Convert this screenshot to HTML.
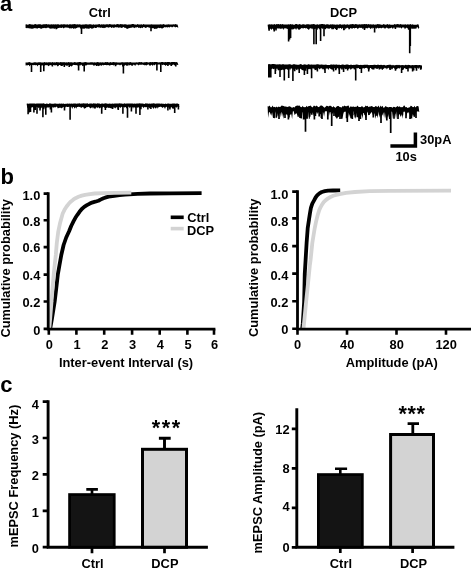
<!DOCTYPE html>
<html><head><meta charset="utf-8"><title>Figure</title>
<style>
html,body{margin:0;padding:0;background:#fff;}
body{width:471px;height:568px;overflow:hidden;}
svg{display:block;will-change:transform;}
svg text{font-family:"Liberation Sans",sans-serif;font-weight:bold;fill:#000;}
</style></head><body>
<svg width="471" height="568" viewBox="0 0 471 568">
<rect width="471" height="568" fill="#fff"/>
<text x="0" y="11.3" text-anchor="start" font-size="22" >a</text>
<text x="0.4" y="183.7" text-anchor="start" font-size="22" >b</text>
<text x="0.3" y="391.7" text-anchor="start" font-size="22" >c</text>
<text x="99.7" y="17.2" text-anchor="middle" font-size="12.85" >Ctrl</text>
<text x="343.6" y="17.0" text-anchor="middle" font-size="12.85" >DCP</text>
<path d="M25.5,24.6 26.5,24.3 27.5,24.7 28.5,24.6 29.5,24.1 30.5,24.2 31.5,24.6 32.5,24.4 33.5,24.7 34.5,24.3 35.5,24.1 36.5,24.5 37.5,24.6 38.5,24.3 39.5,24.2 40.5,24.3 41.5,24.7 42.5,24.6 43.5,24.2 44.5,24.2 45.5,24.2 46.5,24.1 47.5,24.6 48.5,24.2 49.5,24.4 50.5,24.4 51.5,24.2 52.5,24.5 53.5,24.2 54.5,24.5 55.5,24.2 56.5,24.4 57.5,24.2 58.5,24.3 59.5,24.7 60.5,24.6 61.5,24.3 62.5,24.6 63.5,24.2 64.5,24.3 65.5,24.6 66.5,24.5 67.5,24.2 68.5,24.7 69.5,24.2 70.5,24.3 71.5,24.6 72.5,24.3 73.5,24.3 74.5,24.1 75.5,24.2 76.5,24.4 77.5,24.2 78.5,24.5 79.5,24.3 80.5,24.4 81.5,24.7 82.5,24.4 83.5,24.4 84.5,24.6 85.5,24.2 86.5,24.2 87.5,24.6 88.5,24.6 89.5,24.2 90.5,24.2 91.5,24.5 92.5,24.7 93.5,24.2 94.5,24.7 95.5,24.6 96.5,24.5 97.5,24.4 98.5,24.2 99.5,24.1 100.5,24.7 101.5,24.2 102.5,24.5 103.5,24.3 104.5,24.6 105.5,24.5 106.5,24.3 107.5,24.2 108.5,24.5 109.5,24.1 110.5,24.2 111.5,24.4 112.5,24.6 113.5,24.5 114.5,24.3 115.5,24.7 116.5,24.2 117.5,24.1 118.5,24.3 119.5,24.4 120.5,24.1 121.5,24.2 122.5,24.3 123.5,24.4 124.5,24.2 125.5,24.3 126.5,24.6 127.5,24.7 128.5,24.5 129.5,24.5 130.5,24.5 131.5,24.2 132.5,24.1 133.5,24.1 134.5,24.6 135.5,24.5 136.5,24.7 137.5,24.1 138.5,24.5 139.5,24.4 140.5,24.5 141.5,24.3 142.5,24.7 143.5,24.1 144.5,24.4 145.5,24.5 146.5,24.6 147.5,24.5 148.5,24.5 149.5,24.6 150.5,24.6 151.5,24.3 152.5,24.5 153.5,24.6 154.5,24.6 155.5,24.4 156.5,24.6 157.5,24.6 158.5,24.4 159.5,24.5 160.5,24.3 161.5,24.4 162.5,24.5 163.5,24.1 164.5,24.5 165.5,24.7 166.5,24.6 167.5,24.5 168.5,24.3 169.5,24.5 170.5,24.4 171.5,24.4 172.5,24.6 173.5,24.2 174.5,24.6 175.5,24.1 176.5,24.5 177.5,24.4 L178.4,27.4 177.6,27.5 176.8,27 176,27 175.2,27.4 174.4,26.7 173.6,26.5 172.8,26.9 172,27.4 171.2,26.8 170.4,26.7 169.6,27.6 168.8,27.3 168,27.1 167.2,27.7 166.4,27 165.6,27.5 164.8,27 164,27.4 163.2,28.1 162.4,28.4 161.6,28.4 160.8,27.8 160,28.2 159.2,27.9 158.4,27.7 157.6,28.2 156.8,28.7 156,28.8 155.2,28.7 154.4,29 153.6,28.2 152.8,28 152,28.4 151.2,28.1 150.4,27.8 149.6,27.7 148.8,27.6 148,27.3 147.2,27.1 146.4,27.8 145.6,28.1 144.8,27.5 144,27.1 143.2,27.2 142.4,28.3 141.6,27.4 140.8,28.2 140,28 139.2,27.6 138.4,28.1 137.6,27.1 136.8,27.3 136,27.8 135.2,27.3 134.4,28.3 133.6,27.6 132.8,27.5 132,27.3 131.2,28 130.4,27.7 129.6,28 128.8,28.2 128,28.6 127.2,28.9 126.4,28.5 125.6,27.7 124.8,27.9 124,27.3 123.2,27.1 122.4,27.7 121.6,28 120.8,27.4 120,27.5 119.2,27.5 118.4,27.7 117.6,27.2 116.8,27.2 116,27.4 115.2,27.1 114.4,27.7 113.6,27.9 112.8,26.9 112,27.9 111.2,27.7 110.4,26.9 109.6,27.3 108.8,27.5 108,27.8 107.2,27.1 106.4,27.3 105.6,27.7 104.8,27.7 104,28.2 103.2,27.8 102.4,28.1 101.6,27.5 100.8,27.8 100,27.7 99.2,27.3 98.4,27.4 97.6,26.9 96.8,27.8 96,27.9 95.2,28 94.4,27.6 93.6,28.2 92.8,27.8 92,28.6 91.2,28.6 90.4,28 89.6,27.7 88.8,28.1 88,28.3 87.2,28.7 86.4,28.5 85.6,28.1 84.8,29.1 84,28.2 83.2,29.1 82.4,28.4 81.6,28.6 80.8,29 80,27.8 79.2,27.3 78.4,27.4 77.6,27.6 76.8,28 76,28.2 75.2,28.8 74.4,28.3 73.6,28.9 72.8,28 72,28.2 71.2,28.6 70.4,28.2 69.6,28.4 68.8,27.9 68,27.5 67.2,27.8 66.4,27.6 65.6,27.4 64.8,27.6 64,28.2 63.2,28.2 62.4,27.3 61.6,28 60.8,28 60,27.6 59.2,27.9 58.4,27.9 57.6,28.6 56.8,28.6 56,28.7 55.2,27.9 54.4,29 53.6,28.4 52.8,28.2 52,28.7 51.2,28.3 50.4,28.2 49.6,28.4 48.8,27.5 48,27.9 47.2,27.6 46.4,28.2 45.6,28.3 44.8,27.7 44,28.2 43.2,27.9 42.4,28.3 41.6,28.7 40.8,28.8 40,28.2 39.2,28 38.4,27.9 37.6,28.4 36.8,28.7 36,27.7 35.2,28.6 34.4,27.9 33.6,28.4 32.8,28.6 32,29.1 31.2,28.6 30.4,28.4 29.6,28.6 28.8,27.9 28,28.6 27.2,27.8 26.4,28.3 25.6,27.9Z" fill="#000"/>
<path d="M81.5,24.9 V34 M151,24.9 V31.3 M56.3,24.9 V29.2 M92.4,24.9 V28.6 M88.9,24.9 V28.8 M50.6,24.9 V28.6" stroke="#000" stroke-width="1.6" fill="none"/>
<path d="M25.5,62.4 26.5,62.5 27.5,62.4 28.5,62.3 29.5,62.1 30.5,62.5 31.5,62.7 32.5,62.7 33.5,62.5 34.5,62.3 35.5,62.3 36.5,62.5 37.5,62.5 38.5,62.2 39.5,62.2 40.5,62.3 41.5,62.4 42.5,62.6 43.5,62.4 44.5,62.1 45.5,62.6 46.5,62.3 47.5,62.4 48.5,62.2 49.5,62.3 50.5,62.3 51.5,62.5 52.5,62.1 53.5,62.4 54.5,62.2 55.5,62.5 56.5,62.1 57.5,62.2 58.5,62.3 59.5,62.4 60.5,62.1 61.5,62.3 62.5,62.2 63.5,62.2 64.5,62.3 65.5,62.6 66.5,62.3 67.5,62.6 68.5,62.1 69.5,62.6 70.5,62.3 71.5,62.2 72.5,62.5 73.5,62.6 74.5,62 75.5,62.2 76.5,62.5 77.5,62.2 78.5,62.2 79.5,62 80.5,62.1 81.5,62.4 82.5,62.6 83.5,62.6 84.5,62.3 85.5,62 86.5,62.2 87.5,62.5 88.5,62.5 89.5,62.4 90.5,62.2 91.5,62.3 92.5,62.3 93.5,62.4 94.5,62.2 95.5,62.6 96.5,62.5 97.5,62.1 98.5,62.2 99.5,62.5 100.5,62.2 101.5,62.6 102.5,62.3 103.5,62.4 104.5,62.4 105.5,62.1 106.5,62.2 107.5,62.1 108.5,62.4 109.5,62.4 110.5,62.1 111.5,62.5 112.5,62.2 113.5,62.1 114.5,62.2 115.5,62.6 116.5,62.3 117.5,62.4 118.5,62.5 119.5,62.6 120.5,62.4 121.5,62.2 122.5,62.3 123.5,62.5 124.5,62.4 125.5,62.3 126.5,62.2 127.5,62.2 128.5,62.4 129.5,62.3 130.5,62 131.5,62.4 132.5,62.5 133.5,62.4 134.5,62.5 135.5,62.5 136.5,62.3 137.5,62.4 138.5,62.2 139.5,62 140.5,62.2 141.5,62.1 142.5,62.5 143.5,62.4 144.5,62.3 145.5,62.3 146.5,62 147.5,62.3 148.5,62.4 149.5,62.2 150.5,62.1 151.5,62.2 152.5,62.1 153.5,62.3 154.5,62 155.5,62 156.5,62.1 157.5,62.3 158.5,62.4 159.5,62.3 160.5,62.5 161.5,62.1 162.5,61.9 163.5,62.2 164.5,62.2 165.5,62 166.5,62.3 167.5,62.1 168.5,62.1 169.5,62.1 170.5,62.5 171.5,61.9 172.5,62.1 173.5,62.1 174.5,62 175.5,62.2 176.5,62 177.5,62.5 L178.4,64.7 177.6,65.1 176.8,64.4 176,64.7 175.2,64.9 174.4,65.5 173.6,64.5 172.8,64.7 172,65.6 171.2,65.5 170.4,64.5 169.6,64.8 168.8,65.3 168,64.6 167.2,65.1 166.4,65.1 165.6,66 164.8,64.9 164,65.1 163.2,64.6 162.4,65.3 161.6,64.6 160.8,64.8 160,64.6 159.2,64.6 158.4,64.5 157.6,64.5 156.8,64.9 156,64.6 155.2,64.5 154.4,65.5 153.6,64.6 152.8,65.9 152,65 151.2,64.7 150.4,65.7 149.6,65.8 148.8,64.6 148,64.5 147.2,65.1 146.4,65.6 145.6,65.1 144.8,65.5 144,64.8 143.2,65.1 142.4,64.6 141.6,64.8 140.8,64.7 140,64.7 139.2,64.8 138.4,65.6 137.6,64.6 136.8,64.6 136,64.6 135.2,66.1 134.4,65 133.6,64.6 132.8,65.7 132,65.8 131.2,65.6 130.4,64.8 129.6,65.4 128.8,64.7 128,64.6 127.2,65.8 126.4,65.7 125.6,64.7 124.8,65.8 124,64.6 123.2,64.7 122.4,64.6 121.6,64.7 120.8,64.7 120,65.4 119.2,64.7 118.4,64.7 117.6,64.7 116.8,64.8 116,65.8 115.2,65.2 114.4,64.7 113.6,65.4 112.8,65.1 112,64.9 111.2,65.1 110.4,65.3 109.6,65.7 108.8,65 108,65.3 107.2,65 106.4,65.3 105.6,64.9 104.8,64.9 104,65.1 103.2,65.5 102.4,64.8 101.6,66 100.8,65 100,65.8 99.2,65.4 98.4,66.2 97.6,65.4 96.8,65 96,64.9 95.2,65.3 94.4,65.6 93.6,65.8 92.8,64.8 92,64.7 91.2,64.8 90.4,64.8 89.6,64.8 88.8,64.8 88,64.8 87.2,64.8 86.4,65.5 85.6,65.3 84.8,66.2 84,66.2 83.2,65.6 82.4,66.2 81.6,64.8 80.8,64.8 80,66.1 79.2,65.1 78.4,64.8 77.6,65.7 76.8,65 76,65.2 75.2,64.9 74.4,64.9 73.6,64.8 72.8,65.3 72,66.3 71.2,66.4 70.4,65.7 69.6,66.2 68.8,65 68,64.9 67.2,66.2 66.4,65.4 65.6,65.5 64.8,64.8 64,64.9 63.2,65.2 62.4,65.7 61.6,65.9 60.8,65.7 60,65 59.2,65.1 58.4,66 57.6,66.4 56.8,65.2 56,64.9 55.2,65.5 54.4,65.3 53.6,65.1 52.8,65 52,65.1 51.2,65.4 50.4,64.9 49.6,65.3 48.8,66.3 48,65.7 47.2,65 46.4,65.2 45.6,64.9 44.8,65.7 44,65.5 43.2,65 42.4,65.4 41.6,65.4 40.8,65.4 40,65.1 39.2,65.1 38.4,65.1 37.6,66.5 36.8,65.1 36,65.3 35.2,65.3 34.4,65 33.6,65.2 32.8,65 32,65.1 31.2,65.2 30.4,65.1 29.6,66.4 28.8,65.1 28,65.1 27.2,65.6 26.4,65.2 25.6,65.4Z" fill="#000"/>
<path d="M31.5,62.9 V72.1 M40.7,62.9 V72 M43.8,62.9 V71.2 M78.6,62.8 V70.4 M84.2,62.8 V71.6 M123.4,62.8 V73.5 M156.9,62.7 V70.4 M160.8,62.7 V72.1 M124.2,62.8 V65.5 M127.8,62.8 V65.6 M64.3,62.8 V67 M175.8,62.7 V66.4 M52.4,62.9 V66.4 M69.2,62.8 V67.1 M61.7,62.9 V66 M122.8,62.8 V66.5 M115.5,62.8 V66.3 M171.2,62.7 V66 M167.9,62.7 V65.9 M96.7,62.8 V66.1" stroke="#000" stroke-width="1.6" fill="none"/>
<path d="M26.6,103.7 27.6,103.4 28.6,103.7 29.6,103.6 30.6,103.4 31.6,103.4 32.6,103.6 33.6,103.5 34.6,103.6 35.6,103.7 36.6,103.5 37.6,103.4 38.6,103.6 39.6,103.4 40.6,103.4 41.6,103.4 42.6,103.5 43.6,103.3 44.6,103.7 45.6,103.9 46.6,103.5 47.6,103.7 48.6,103.9 49.6,103.3 50.6,103.4 51.6,103.8 52.6,103.8 53.6,103.7 54.6,103.4 55.6,103.5 56.6,103.8 57.6,103.8 58.6,103.8 59.6,103.4 60.6,103.8 61.6,103.5 62.6,103.7 63.6,103.4 64.6,103.9 65.6,103.7 66.6,103.7 67.6,103.4 68.6,103.7 69.6,103.6 70.6,103.7 71.6,103.5 72.6,103.7 73.6,103.5 74.6,103.5 75.6,103.4 76.6,103.7 77.6,103.4 78.6,103.4 79.6,103.3 80.6,103.7 81.6,103.6 82.6,103.6 83.6,103.3 84.6,103.6 85.6,103.5 86.6,103.4 87.6,103.3 88.6,103.9 89.6,103.4 90.6,103.5 91.6,103.5 92.6,103.7 93.6,103.3 94.6,103.6 95.6,103.5 96.6,103.8 97.6,103.3 98.6,103.5 99.6,103.6 100.6,103.9 101.6,103.6 102.6,103.6 103.6,103.7 104.6,103.5 105.6,103.3 106.6,103.6 107.6,103.8 108.6,103.7 109.6,103.5 110.6,103.7 111.6,103.8 112.6,103.5 113.6,103.7 114.6,103.5 115.6,103.4 116.6,103.5 117.6,103.4 118.6,103.5 119.6,103.3 120.6,103.5 121.6,103.4 122.6,103.8 123.6,103.7 124.6,103.3 125.6,103.8 126.6,103.4 127.6,103.6 128.6,103.6 129.6,103.5 130.6,103.5 131.6,103.6 132.6,103.4 133.6,103.8 134.6,103.4 135.6,103.8 136.6,103.4 137.6,103.5 138.6,103.5 139.6,103.3 140.6,103.4 141.6,103.5 142.6,103.6 143.6,103.8 144.6,103.9 145.6,103.3 146.6,103.6 147.6,103.4 148.6,103.8 149.6,103.5 150.6,103.8 151.6,103.6 152.6,103.4 153.6,103.3 154.6,103.4 155.6,103.8 156.6,103.4 157.6,103.6 158.6,103.5 159.6,103.5 160.6,103.8 161.6,103.4 162.6,103.7 163.6,103.7 164.6,103.9 165.6,103.6 166.6,103.9 167.6,103.6 168.6,103.6 169.6,103.7 170.6,103.8 171.6,103.8 172.6,103.4 173.6,103.4 174.6,103.6 175.6,103.8 176.6,103.6 177.6,103.5 178.6,103.9 L179.4,107 178.6,106.8 177.8,106.8 177,106.8 176.2,107.9 175.4,106.8 174.6,107.9 173.8,108.4 173,109 172.2,108.2 171.4,107.1 170.6,107.6 169.8,108.3 169,107.9 168.2,106.9 167.4,108 166.6,106.8 165.8,107 165,109 164.2,107.2 163.4,106.9 162.6,108.1 161.8,107.2 161,106.8 160.2,106.8 159.4,106.9 158.6,107 157.8,108.7 157,106.9 156.2,108.3 155.4,108.4 154.6,107.1 153.8,109 153,108 152.2,107.2 151.4,106.9 150.6,107.2 149.8,108.6 149,107.4 148.2,106.9 147.4,107.1 146.6,107.2 145.8,106.9 145,107.4 144.2,106.8 143.4,108.2 142.6,106.8 141.8,106.8 141,107.5 140.2,107 139.4,108.5 138.6,107.3 137.8,107.3 137,108.3 136.2,106.9 135.4,108 134.6,107.6 133.8,107.1 133,108.8 132.2,106.8 131.4,108.4 130.6,106.8 129.8,108.3 129,106.8 128.2,106.8 127.4,107.3 126.6,108.7 125.8,106.9 125,107.3 124.2,107.5 123.4,106.9 122.6,107.3 121.8,106.8 121,107.2 120.2,108 119.4,107 118.6,106.9 117.8,106.8 117,107.8 116.2,107.1 115.4,108.6 114.6,107.9 113.8,106.8 113,108.6 112.2,108.7 111.4,108.2 110.6,108.3 109.8,107.7 109,107.9 108.2,107.7 107.4,107.5 106.6,106.9 105.8,106.8 105,107.9 104.2,107.5 103.4,106.8 102.6,107.6 101.8,107.5 101,107.3 100.2,108.1 99.4,108.4 98.6,107.1 97.8,108.2 97,107.3 96.2,107.4 95.4,107.1 94.6,108.7 93.8,107.2 93,108.8 92.2,107 91.4,107.7 90.6,108.6 89.8,107.8 89,107.1 88.2,106.8 87.4,107.2 86.6,107.1 85.8,108.2 85,108.1 84.2,108.9 83.4,107.2 82.6,107.1 81.8,107.4 81,108 80.2,106.8 79.4,106.9 78.6,106.8 77.8,107 77,107 76.2,108.8 75.4,106.9 74.6,108.7 73.8,106.9 73,106.9 72.2,108.9 71.4,106.8 70.6,106.8 69.8,106.8 69,106.8 68.2,107.1 67.4,106.9 66.6,106.8 65.8,106.8 65,107.8 64.2,106.8 63.4,106.9 62.6,107.4 61.8,108.5 61,107.7 60.2,107.8 59.4,107.8 58.6,108.1 57.8,108.4 57,106.8 56.2,106.8 55.4,107.6 54.6,107.3 53.8,107.3 53,108.1 52.2,106.8 51.4,107.8 50.6,107.1 49.8,107.1 49,106.9 48.2,106.9 47.4,107.5 46.6,107.4 45.8,108.6 45,106.9 44.2,107.9 43.4,106.8 42.6,107.7 41.8,106.8 41,108.4 40.2,108.8 39.4,106.9 38.6,108.2 37.8,106.9 37,107 36.2,106.8 35.4,107.2 34.6,106.8 33.8,107.8 33,107.5 32.2,107.1 31.4,107.8 30.6,106.9 29.8,107 29,107 28.2,106.8 27.4,108.5Z" fill="#000"/>
<path d="M28.1,104.1 V114.3 M29,104.1 V112.5 M30.5,104.1 V112.1 M33.9,104.1 V112.5 M35.2,104.1 V110 M37,104.1 V113.8 M40,104.1 V110.5 M42.9,104.1 V117.2 M45.8,104.1 V114.7 M51.4,104.1 V112.5 M64.5,104.1 V110.5 M70.1,104.1 V119.8 M101.7,104.1 V113.7 M105.4,104.1 V110 M118.3,104.1 V110 M122.9,104.1 V113.8 M127.5,104.1 V117.7 M131.4,104.1 V111.5 M136,104.1 V113.8 M139.9,104.1 V115 M167.9,104.1 V110.5 M174.7,104.1 V113 M178.4,104.1 V109.5 M40.9,104.1 V107.8 M147.9,104.1 V109.4 M95.1,104.1 V108.5 M48.6,104.1 V107.6 M106.1,104.1 V108.1 M50.4,104.1 V109.6 M30.5,104.1 V108.4 M140.9,104.1 V109.2 M43.7,104.1 V109.2 M112.6,104.1 V109 M169.9,104.1 V109.4 M118,104.1 V109.3 M101.8,104.1 V108.8 M150.9,104.1 V109" stroke="#000" stroke-width="1.6" fill="none"/>
<path d="M267.6,24.7 268.6,24.4 269.6,24.2 270.6,24.4 271.6,24.2 272.6,24.6 273.6,24.4 274.6,24.1 275.6,24.7 276.6,24.1 277.6,24.2 278.6,24 279.6,24.6 280.6,24.1 281.6,24.4 282.6,24.1 283.6,24.4 284.6,24.5 285.6,24.4 286.6,24.4 287.6,24.4 288.6,24.3 289.6,24.5 290.6,24.1 291.6,24.4 292.6,24.2 293.6,24.7 294.6,24.8 295.6,24.1 296.6,24.1 297.6,24.6 298.6,24.5 299.6,24 300.6,24.6 301.6,24.8 302.6,24.3 303.6,24.3 304.6,24.5 305.6,24.8 306.6,24.2 307.6,24.2 308.6,24.2 309.6,24.5 310.6,24.4 311.6,24.2 312.6,24.3 313.6,24 314.6,24.2 315.6,24.8 316.6,24.5 317.6,24.2 318.6,24.7 319.6,24.3 320.6,24.2 321.6,24 322.6,24.1 323.6,24.2 324.6,24.2 325.6,24.7 326.6,24.2 327.6,24.2 328.6,24.5 329.6,24.7 330.6,24.2 331.6,24.6 332.6,24.3 333.6,24.4 334.6,24.5 335.6,24.8 336.6,24.6 337.6,24.4 338.6,24.7 339.6,24.3 340.6,24.3 341.6,24.8 342.6,24.4 343.6,24.6 344.6,24.3 345.6,24.7 346.6,24.5 347.6,24.2 348.6,24.7 349.6,24.4 350.6,24.3 351.6,24.2 352.6,24.1 353.6,24.2 354.6,24.6 355.6,24.1 356.6,24.2 357.6,24.4 358.6,24.4 359.6,24.3 360.6,24.6 361.6,24.2 362.6,24.3 363.6,24.3 364.6,24.1 365.6,24.2 366.6,24.1 367.6,24.6 368.6,24.1 369.6,24.5 370.6,24.2 371.6,24.5 372.6,24.5 373.6,24.3 374.6,24.7 375.6,24.5 376.6,24.4 377.6,24 378.6,24.3 379.6,24.2 380.6,24.4 381.6,24.7 382.6,24.7 383.6,24 384.6,24.5 385.6,24.7 386.6,24.4 387.6,24.1 388.6,24.7 389.6,24.3 390.6,24.8 391.6,24.7 392.6,24.7 393.6,24.7 394.6,24.1 395.6,24.6 396.6,24.2 397.6,24.1 398.6,24.3 399.6,24.5 400.6,24 401.6,24.4 402.6,24.6 403.6,24.4 404.6,24.4 405.6,24.2 406.6,24.8 407.6,24.2 408.6,24.5 409.6,24.5 410.6,24 411.6,24.8 412.6,24.2 413.6,24.8 414.6,24.7 415.6,24.7 416.6,24.7 417.6,24.3 418.6,24.4 L419.3,27.4 418.5,28.9 417.7,27.2 416.9,27.2 416.1,29 415.3,28.5 414.5,28.2 413.7,29.1 412.9,27.7 412.1,28.6 411.3,27.6 410.5,28.9 409.7,27.3 408.9,27.6 408.1,27.9 407.3,28.5 406.5,27.6 405.7,28.2 404.9,29.2 404.1,27.6 403.3,27.4 402.5,27.3 401.7,28.8 400.9,27.7 400.1,27.6 399.3,27.8 398.5,27.4 397.7,27.4 396.9,27.5 396.1,27.5 395.3,28.8 394.5,27.5 393.7,27.4 392.9,28.9 392.1,28 391.3,27.4 390.5,28.3 389.7,28.3 388.9,28.2 388.1,28.6 387.3,27.8 386.5,27.5 385.7,28.5 384.9,28.2 384.1,28.4 383.3,27.5 382.5,27.7 381.7,28.4 380.9,27.7 380.1,28.2 379.3,27.9 378.5,28.6 377.7,27.7 376.9,28 376.1,28.9 375.3,27.7 374.5,27.6 373.7,28.3 372.9,27.6 372.1,29 371.3,27.7 370.5,29.2 369.7,28.1 368.9,27.6 368.1,28.1 367.3,28.5 366.5,28 365.7,28.4 364.9,27.9 364.1,29.5 363.3,27.7 362.5,28.9 361.7,27.7 360.9,28.1 360.1,27.7 359.3,27.7 358.5,28.3 357.7,29.3 356.9,27.8 356.1,28 355.3,28.1 354.5,28.4 353.7,27.9 352.9,27.9 352.1,29.1 351.3,28.3 350.5,27.9 349.7,29 348.9,29.8 348.1,28.1 347.3,27.8 346.5,27.9 345.7,29.4 344.9,27.8 344.1,27.9 343.3,29 342.5,27.8 341.7,29.2 340.9,27.9 340.1,28.1 339.3,28.5 338.5,27.9 337.7,29 336.9,28.2 336.1,29 335.3,29 334.5,27.9 333.7,29.2 332.9,29.2 332.1,28 331.3,28.5 330.5,28 329.7,28.4 328.9,29 328.1,28.2 327.3,28.4 326.5,28 325.7,29.4 324.9,28.7 324.1,29.3 323.3,28 322.5,29 321.7,28 320.9,28.5 320.1,28.1 319.3,29.6 318.5,28 317.7,28.4 316.9,28.4 316.1,28.3 315.3,28 314.5,28.8 313.7,29.9 312.9,28.3 312.1,29.6 311.3,28.2 310.5,28.2 309.7,28.4 308.9,30 308.1,29.2 307.3,28.8 306.5,28.1 305.7,28.4 304.9,28.1 304.1,28.1 303.3,28.4 302.5,28.2 301.7,28.1 300.9,28.6 300.1,29.3 299.3,29.8 298.5,29.8 297.7,28.5 296.9,28.2 296.1,30 295.3,28.5 294.5,28.4 293.7,29.5 292.9,28.8 292.1,30 291.3,29.1 290.5,30 289.7,28.3 288.9,30 288.1,28.8 287.3,29.1 286.5,28.4 285.7,28.3 284.9,28.4 284.1,28.3 283.3,30.1 282.5,28.3 281.7,28.4 280.9,29 280.1,28.4 279.3,28.4 278.5,28.4 277.7,28.4 276.9,28.3 276.1,29.4 275.3,29.1 274.5,28.5 273.7,29.9 272.9,28.9 272.1,28.4 271.3,30.2 270.5,28.5 269.7,29.6 268.9,29.7 268.1,28.4Z" fill="#000"/>
<path d="M269.1,24.9 V30.7 M274.2,24.9 V31.5 M288.6,24.9 V41.4 M289.6,24.9 V39.5 M290.6,24.9 V38 M313.9,24.9 V44.3 M316.2,24.9 V44.3 M320.6,24.9 V40.9 M324,24.9 V36.3 M374.6,24.9 V32.4 M409.7,24.9 V53.3 M410.3,24.9 V46 M395.4,24.9 V28.9 M343.8,24.9 V30.2 M336.2,24.9 V29.1 M276,24.9 V30.6 M336.7,24.9 V29.9 M364.5,24.9 V30.1 M408.7,24.9 V29.7 M344.1,24.9 V30.1 M314.5,24.9 V29 M364.3,24.9 V28.5 M414.2,24.9 V28.6 M332.1,24.9 V29.2 M316.9,24.9 V29.7 M388.5,24.9 V28.3 M320,24.9 V29.2 M412.1,24.9 V28.8" stroke="#000" stroke-width="1.6" fill="none"/>
<path d="M268,64.5 269,64.1 270,64.3 271,64.6 272,64 273,64 274,64 275,64.3 276,64.6 277,64.4 278,64.3 279,64.4 280,64.1 281,64.7 282,64.3 283,64.2 284,64.2 285,64.7 286,64.3 287,64.7 288,64.3 289,64.4 290,64.1 291,64.8 292,64.7 293,64.4 294,64.1 295,64.5 296,64.4 297,64.7 298,64.8 299,64.7 300,64.3 301,64.1 302,64.8 303,64.9 304,64.2 305,64.5 306,64.5 307,64.9 308,64.2 309,64.2 310,64.8 311,64.6 312,64.5 313,64.8 314,64.6 315,64.7 316,64.4 317,64.3 318,64.2 319,64.5 320,64.7 321,64.5 322,64.5 323,64.7 324,64.8 325,64.7 326,64.5 327,64.9 328,64.9 329,65 330,65 331,64.3 332,64.8 333,64.6 334,64.6 335,64.7 336,64.4 337,64.5 338,65.1 339,64.6 340,65.1 341,64.9 342,64.6 343,64.6 344,64.8 345,64.9 346,64.6 347,64.4 348,64.5 349,65.1 350,65 351,64.5 352,65.1 353,64.9 354,64.7 355,65.1 356,64.5 357,64.5 358,64.7 359,65 360,64.9 361,64.8 362,65.2 363,64.8 364,65.1 365,64.5 366,65.1 367,64.6 368,65 369,65.2 370,65 371,65 372,64.9 373,65.1 374,64.8 375,64.7 376,65 377,65 378,64.6 379,65 380,64.9 381,64.7 382,65.1 383,65.2 384,64.8 385,65.3 386,65.4 387,65.1 388,64.9 389,64.8 390,64.7 391,64.8 392,65.4 393,64.7 394,65.4 395,65.2 396,65.3 397,64.7 398,65.2 399,64.8 400,65.2 401,65.3 402,65.3 403,65.1 404,65.4 405,64.9 406,64.8 407,65.4 408,64.8 409,65.1 410,65.1 411,65.4 412,65 413,65.2 414,65.2 415,65.1 416,65.1 417,65.1 418,65.3 419,65.1 420,65.1 421,65.5 422,65.6 L422,67.5 421.2,69.4 420.4,67.4 419.6,67.6 418.8,69.2 418,67.5 417.2,68.3 416.4,69.6 415.6,68.2 414.8,67.9 414,67.5 413.2,67.9 412.4,67.9 411.6,68.8 410.8,67.8 410,68.9 409.2,67.8 408.4,68.3 407.6,68.7 406.8,67.6 406,69.5 405.2,67.9 404.4,68 403.6,69.6 402.8,68.2 402,68.1 401.2,67.6 400.4,67.6 399.6,68.8 398.8,68.1 398,68.5 397.2,68.6 396.4,68.5 395.6,67.8 394.8,69.2 394,68 393.2,67.7 392.4,69.2 391.6,69.4 390.8,67.7 390,69.3 389.2,68.6 388.4,67.8 387.6,68.3 386.8,69.5 386,67.7 385.2,68.6 384.4,67.8 383.6,67.7 382.8,69.7 382,69.9 381.2,68.6 380.4,69 379.6,68 378.8,68.1 378,68.5 377.2,69.1 376.4,68.8 375.6,68.2 374.8,68.6 374,68.1 373.2,69.2 372.4,69.4 371.6,69 370.8,68 370,68.1 369.2,69.9 368.4,68.1 367.6,68.7 366.8,67.8 366,67.9 365.2,67.9 364.4,68.8 363.6,67.9 362.8,68.7 362,67.9 361.2,68.9 360.4,68.9 359.6,68 358.8,68 358,68 357.2,68.4 356.4,68 355.6,68 354.8,69.3 354,69.8 353.2,68 352.4,68.5 351.6,68.8 350.8,69.9 350,68.6 349.2,68.5 348.4,69.2 347.6,69.3 346.8,69 346,68.8 345.2,69.4 344.4,68 343.6,69.2 342.8,68.1 342,68.2 341.2,68.3 340.4,68.6 339.6,68.7 338.8,68.7 338,68.2 337.2,68.3 336.4,68.9 335.6,70 334.8,68.3 334,68.1 333.2,69.6 332.4,69.8 331.6,69.6 330.8,68.9 330,68.4 329.2,68.1 328.4,70 327.6,68.5 326.8,68.2 326,68.9 325.2,68.2 324.4,68.4 323.6,68.9 322.8,69.5 322,68.4 321.2,68.2 320.4,68.4 319.6,69.6 318.8,68.2 318,68.2 317.2,68.4 316.4,70.2 315.6,69.9 314.8,70.3 314,68.2 313.2,68.7 312.4,68.3 311.6,68.9 310.8,69.6 310,68.7 309.2,69.3 308.4,69.2 307.6,68.8 306.8,68.6 306,68.4 305.2,69.4 304.4,70.4 303.6,70.4 302.8,70.2 302,69.9 301.2,69.2 300.4,68.8 299.6,68.4 298.8,69.7 298,68.4 297.2,70.3 296.4,69.9 295.6,68.5 294.8,70.2 294,69.6 293.2,69.8 292.4,68.4 291.6,68.5 290.8,68.5 290,70.4 289.2,68.5 288.4,68.8 287.6,69.6 286.8,68.7 286,69.3 285.2,69.2 284.4,68.7 283.6,70.3 282.8,69.4 282,69.6 281.2,69.6 280.4,69.3 279.6,68.6 278.8,70.3 278,70.5 277.2,68.5 276.4,68.8 275.6,68.6 274.8,68.6 274,69.2 273.2,68.9 272.4,68.6 271.6,69 270.8,69.6 270,68.6 269.2,69.4 268.4,69.5Z" fill="#000"/>
<path d="M268.8,64.8 V77.5 M269.8,64.8 V77.5 M270.8,64.8 V77.5 M275.3,64.8 V74 M280,64.9 V77 M284.3,64.9 V80.6 M288.7,64.9 V78 M292.9,64.9 V81 M299.2,65 V73 M304.4,65 V75 M307.4,65 V74 M311.6,65.1 V78.3 M317.4,65.1 V71.5 M325,65.1 V73 M333.6,65.2 V71.5 M339.3,65.2 V74 M343.6,65.2 V72 M355.7,65.3 V80.6 M361.4,65.3 V73 M368.7,65.4 V71.5 M401.6,65.6 V73 M408,65.6 V71.5 M412.6,65.6 V71.5 M416.5,65.7 V70.8 M395.5,65.5 V70.8 M402.9,65.6 V69.2 M281.6,64.9 V70.1 M294.7,65 V71.2 M324.6,65.1 V70.3 M379.4,65.5 V69.6 M420.7,65.7 V69.8 M359.7,65.3 V69.1 M305.5,65 V70.8 M335.8,65.2 V70.3 M402.6,65.6 V70 M396.3,65.6 V69.3 M279.3,64.9 V70 M406.6,65.6 V68.9 M287.7,64.9 V69.4 M421,65.7 V68.7 M280.6,64.9 V70.2 M275.6,64.8 V71.1 M373.7,65.4 V69.6 M379.3,65.5 V68.6 M390.1,65.5 V70 M383.4,65.5 V68.8 M413.7,65.7 V70.6 M341.9,65.2 V69.6 M347.6,65.3 V70.5 M339.1,65.2 V70.2" stroke="#000" stroke-width="1.6" fill="none"/>
<path d="M267.6,106.2 268.6,106.6 269.6,105.6 270.6,107.2 271.6,107.3 272.6,105.4 273.6,107.6 274.6,106.7 275.6,107.8 276.6,106.6 277.6,107.5 278.6,106.6 279.6,107 280.6,106.7 281.6,105.5 282.6,105.8 283.6,106 284.6,106.5 285.6,106.4 286.6,106.8 287.6,107.1 288.6,106.4 289.6,106.2 290.6,106.7 291.6,107.9 292.6,107.4 293.6,107.1 294.6,107.5 295.6,106 296.6,105.7 297.6,105.6 298.6,105.7 299.6,105.4 300.6,107 301.6,107.8 302.6,105.7 303.6,107.2 304.6,107.8 305.6,107.4 306.6,105.8 307.6,107.1 308.6,106.1 309.6,105.9 310.6,105.4 311.6,106.8 312.6,107.8 313.6,105.7 314.6,105.8 315.6,106.4 316.6,105.5 317.6,106.6 318.6,107.3 319.6,106.6 320.6,105.5 321.6,105.5 322.6,105.9 323.6,107.1 324.6,107.8 325.6,106.7 326.6,105.7 327.6,106 328.6,106.5 329.6,105.7 330.6,105.7 331.6,106.5 332.6,107.6 333.6,106 334.6,107.7 335.6,107.7 336.6,106.5 337.6,106 338.6,105.9 339.6,107.1 340.6,107.5 341.6,107.6 342.6,105.9 343.6,106.5 344.6,105.5 345.6,106.2 346.6,106.2 347.6,105.7 348.6,105.6 349.6,108 350.6,106.2 351.6,106.7 352.6,106.8 353.6,106.6 354.6,106.9 355.6,106.7 356.6,106.7 357.6,105.6 358.6,107 359.6,107.1 360.6,107.3 361.6,106.2 362.6,106.6 363.6,107.5 364.6,107.3 365.6,105.5 366.6,106.3 367.6,105.8 368.6,107.2 369.6,106.4 370.6,106.4 371.6,106 372.6,106.6 373.6,107.3 374.6,107 375.6,106 376.6,106.4 377.6,107 378.6,105.5 379.6,107.7 380.6,105.5 381.6,107 382.6,105.8 383.6,107.9 384.6,107.2 385.6,106 386.6,106.7 387.6,107.6 388.6,107.6 389.6,107.1 390.6,107.1 391.6,107.3 392.6,107.8 393.6,106.7 394.6,107 395.6,107.5 396.6,106.7 397.6,106 398.6,106.9 399.6,106.3 400.6,107.3 401.6,107.3 402.6,107.8 403.6,105.7 404.6,105.5 405.6,107.8 406.6,107.3 407.6,108 408.6,107.5 409.6,107.9 410.6,105.8 411.6,105.9 412.6,107 413.6,107.4 414.6,105.7 415.6,107.9 416.6,106 417.6,105.9 418.6,106.5 L419.3,112.2 418.5,111.6 417.7,111.5 416.9,111.3 416.1,112 415.3,116.1 414.5,117.1 413.7,117 412.9,113.9 412.1,116.8 411.3,111.7 410.5,117.9 409.7,113.8 408.9,111.8 408.1,113.6 407.3,112.2 406.5,116.7 405.7,113.5 404.9,111.2 404.1,112.2 403.3,111.5 402.5,118.7 401.7,113.8 400.9,117.1 400.1,115.4 399.3,113.8 398.5,116.6 397.7,115 396.9,111.4 396.1,119.1 395.3,113.3 394.5,115.9 393.7,113.9 392.9,118.8 392.1,112.1 391.3,111.4 390.5,111.4 389.7,113.7 388.9,117.7 388.1,114.1 387.3,118.5 386.5,111.9 385.7,118.9 384.9,112.1 384.1,118.1 383.3,112.2 382.5,115.3 381.7,115.5 380.9,118.9 380.1,113.8 379.3,117.7 378.5,111.4 377.7,118.2 376.9,114.7 376.1,114.9 375.3,118.9 374.5,113.1 373.7,115.6 372.9,115.3 372.1,113 371.3,111.9 370.5,114 369.7,112.9 368.9,115.5 368.1,113.8 367.3,111.6 366.5,116.2 365.7,118.4 364.9,115.6 364.1,113 363.3,113 362.5,118.8 361.7,114.1 360.9,116.6 360.1,111.5 359.3,117.4 358.5,118.1 357.7,112.7 356.9,113 356.1,115.9 355.3,118.7 354.5,117.1 353.7,111.3 352.9,111.7 352.1,118.1 351.3,113.8 350.5,118.7 349.7,114.1 348.9,117.6 348.1,112.4 347.3,118.8 346.5,114.4 345.7,111.2 344.9,112.3 344.1,111.6 343.3,113.9 342.5,118.8 341.7,118.9 340.9,118.5 340.1,113.8 339.3,117 338.5,116.7 337.7,117.6 336.9,118.9 336.1,117.6 335.3,116.9 334.5,113.1 333.7,112.1 332.9,113.9 332.1,112.9 331.3,116.8 330.5,112 329.7,112.3 328.9,116.6 328.1,111.3 327.3,111.6 326.5,111.2 325.7,111.3 324.9,111.6 324.1,116.7 323.3,112.7 322.5,111.7 321.7,114.5 320.9,113.4 320.1,111.2 319.3,111.5 318.5,112.6 317.7,113.9 316.9,111.8 316.1,113.9 315.3,114.4 314.5,118.5 313.7,115.5 312.9,113 312.1,112.4 311.3,112.2 310.5,113.6 309.7,118.7 308.9,118.9 308.1,111.9 307.3,115.8 306.5,116.9 305.7,118.5 304.9,116.9 304.1,115.7 303.3,111.6 302.5,112.7 301.7,118.6 300.9,118.3 300.1,118.1 299.3,113.3 298.5,117.1 297.7,117.1 296.9,113.7 296.1,113.2 295.3,114.2 294.5,114.9 293.7,111.3 292.9,111.3 292.1,119.2 291.3,113.8 290.5,113.8 289.7,115.3 288.9,114.8 288.1,116.3 287.3,114.8 286.5,111.3 285.7,111.4 284.9,112.7 284.1,113.4 283.3,119.1 282.5,114.5 281.7,111.8 280.9,117.6 280.1,113.1 279.3,113.9 278.5,115.7 277.7,116.5 276.9,112.6 276.1,113.9 275.3,111.2 274.5,118.6 273.7,118 272.9,117.4 272.1,112.3 271.3,115.7 270.5,114 269.7,112 268.9,112.4 268.1,117.9Z" fill="#000"/>
<path d="M305.5,107.2 V131.7 M331.7,107.2 V126 M347.3,107.2 V122 M359,107.2 V121 M381,107.2 V123 M386.8,107.2 V120.5 M390.7,107.2 V133 M279,107.2 V119 M274,107.2 V118 M285,107.2 V118 M300,107.2 V118 M322,107.2 V119 M340,107.2 V119 M366,107.2 V120 M398,107.2 V119 M410,107.2 V119 M416,107.2 V118 M359.6,107.2 V117.5 M289,107.2 V117.4 M402.4,107.2 V115.3 M303.8,107.2 V119.3 M309.6,107.2 V116.7 M406,107.2 V118.2 M315.4,107.2 V116 M305.6,107.2 V114.4 M347,107.2 V115 M307.1,107.2 V118.8 M286.6,107.2 V114.6 M276.3,107.2 V117.7 M305.3,107.2 V115.7 M346.6,107.2 V118.2 M413.8,107.2 V114.5 M320.7,107.2 V114.3 M321.4,107.2 V117.9 M319.2,107.2 V116.6 M314.4,107.2 V119.6 M389.8,107.2 V119.1 M360.4,107.2 V119.1 M365,107.2 V114.7 M288.4,107.2 V119.4 M351.3,107.2 V118.3 M352.3,107.2 V119.1 M298.5,107.2 V115.1 M301.2,107.2 V118.2 M358,107.2 V117.1 M299.2,107.2 V116.5 M311.8,107.2 V114.7 M411.4,107.2 V118.6 M387.3,107.2 V116.3 M394,107.2 V118.7 M303.6,107.2 V119.5 M389.5,107.2 V114.5 M284.3,107.2 V114.7 M369,107.2 V115.1 M290.7,107.2 V114.4 M334,107.2 V115.9 M352.8,107.2 V115.2 M373.3,107.2 V117.6 M327.8,107.2 V119.5 M357.3,107.2 V117.2 M304.1,107.2 V115.9 M375.9,107.2 V116.1" stroke="#000" stroke-width="1.7" fill="none"/>
<path d="M390.4,145.9 H415.4 V132.4" stroke="#000" stroke-width="3.5" fill="none"/>
<text x="420.0" y="144.2" text-anchor="start" font-size="12.85" >30pA</text>
<text x="395.4" y="160.9" text-anchor="start" font-size="12.85" >10s</text>
<path d="M50.2,328.5 L52,318.4 L54.7,301.5 L56.3,288 L57.8,274.7 L59.5,265 L61.3,255 L63.6,245 L66.2,237.5 L69.1,231.3 L71.2,226 L73.6,221.1 L75.4,217.8 L77.4,214.8 L79.5,211.8 L81.8,209 L84.2,206.9 L86.9,205.2 L89.4,203.8 L92,202.6 L95.2,201.7 L98.4,200.7 L101,199.4 L103.5,198.2 L106,197.4 L108.6,196.7 L114.3,195.9 L119.5,195.2 L124.9,194.6 L137.7,193.9 L150,193.5 L170,193.3 L201.6,193.2" stroke="#000" stroke-width="3.8" fill="none" stroke-linejoin="round"/>
<path d="M49.3,328.5 L50.2,318.4 L51.5,301.5 L52.6,288 L53.7,274.7 L54.7,265 L55.8,255 L56.8,243 L58.3,231.3 L60.2,222.4 L62.7,213.5 L64.5,209.8 L66.6,206.5 L68.7,203.8 L71,201.4 L73.2,199.7 L75.5,198.2 L78.5,196.8 L81.8,195.6 L85,194.9 L88.2,194.4 L94.6,193.5 L103.5,193.1 L115,192.8 L131.3,192.6" stroke="#d3d3d3" stroke-width="3.8" fill="none" stroke-linejoin="round"/>
<path d="M48.2,192.2 V329.2 H215.4" stroke="#000" stroke-width="2.8" fill="none"/>
<path d="M43.6,328.9 H48.2 M43.6,301.5 H48.2 M43.6,274.6 H48.2 M43.6,247.1 H48.2 M43.6,220.2 H48.2 M43.6,193.6 H48.2 M48.8,329.2 V334.8 M76.4,329.2 V334.8 M104.2,329.2 V334.8 M132.1,329.2 V334.8 M159.7,329.2 V334.8 M187.4,329.2 V334.8 M214.0,329.2 V334.8 " stroke="#000" stroke-width="2.6" fill="none"/>
<text x="40.3" y="334.5" text-anchor="end" font-size="12.85" >0</text>
<text x="40.3" y="307.0" text-anchor="end" font-size="12.85" >0.2</text>
<text x="40.3" y="279.7" text-anchor="end" font-size="12.85" >0.4</text>
<text x="40.3" y="252.1" text-anchor="end" font-size="12.85" >0.6</text>
<text x="40.3" y="225.6" text-anchor="end" font-size="12.85" >0.8</text>
<text x="40.3" y="200.2" text-anchor="end" font-size="12.85" >1.0</text>
<text x="49.4" y="348.6" text-anchor="middle" font-size="12.85" >0</text>
<text x="77.0" y="348.6" text-anchor="middle" font-size="12.85" >1</text>
<text x="104.8" y="348.6" text-anchor="middle" font-size="12.85" >2</text>
<text x="132.7" y="348.6" text-anchor="middle" font-size="12.85" >3</text>
<text x="160.3" y="348.6" text-anchor="middle" font-size="12.85" >4</text>
<text x="188.0" y="348.6" text-anchor="middle" font-size="12.85" >5</text>
<text x="214.6" y="348.6" text-anchor="middle" font-size="12.85" >6</text>
<text x="126.0" y="367.3" text-anchor="middle" font-size="12.85" >Inter-event Interval (s)</text>
<text transform="translate(10.3,337.6) rotate(-90)" font-size="12.85">Cumulative probability</text>
<path d="M170.7,217.3 H183.7" stroke="#000" stroke-width="3.6"/>
<path d="M170.7,228.6 H183.7" stroke="#d3d3d3" stroke-width="3.6"/>
<text x="187.2" y="221.5" text-anchor="start" font-size="12.85" >Ctrl</text>
<text x="186.9" y="235.3" text-anchor="start" font-size="12.85" >DCP</text>
<path d="M302.2,328.5 L302.8,323.4 L304.15,302 L304.75,274 L305.6,259.8 L306.6,243 L307.7,228.3 L309,219.4 L310,213 L310.9,207.9 L312.3,203.6 L314.1,200.3 L315.6,197.5 L317.3,195.2 L319.4,193.4 L321.8,192 L324.8,191.2 L328.1,190.7 L333,190.5 L340.2,190.4" stroke="#000" stroke-width="3.8" fill="none" stroke-linejoin="round"/>
<path d="M303.5,328.5 L305,313.4 L306.1,302 L308.2,281.7 L309.8,265.8 L310.6,259.8 L312.3,243 L314.7,228.3 L316,221.9 L317.9,214.3 L319.1,210.6 L320.5,207.3 L322,204.6 L323.7,202.2 L325.8,200.1 L328.1,198.4 L330.5,197 L333.2,195.8 L336.3,194.9 L339.6,194.2 L346,192.9 L354.9,192 L369.8,191.2 L390,190.8 L451,190.6" stroke="#d3d3d3" stroke-width="3.8" fill="none" stroke-linejoin="round"/>
<path d="M297.5,190.3 V329.1 H471" stroke="#000" stroke-width="2.8" fill="none"/>
<path d="M292.2,328.7 H297.5 M292.2,301.2 H297.5 M292.2,273.6 H297.5 M292.2,246.1 H297.5 M292.2,218.4 H297.5 M292.2,191.6 H297.5 M297.5,329.1 V334.8 M347.0,329.1 V334.8 M396.5,329.1 V334.8 M446.0,329.1 V334.8 " stroke="#000" stroke-width="2.6" fill="none"/>
<text x="288.3" y="334.4" text-anchor="end" font-size="12.85" >0</text>
<text x="288.3" y="307.0" text-anchor="end" font-size="12.85" >0.2</text>
<text x="288.3" y="279.8" text-anchor="end" font-size="12.85" >0.4</text>
<text x="288.3" y="251.9" text-anchor="end" font-size="12.85" >0.6</text>
<text x="288.3" y="225.5" text-anchor="end" font-size="12.85" >0.8</text>
<text x="288.3" y="199.3" text-anchor="end" font-size="12.85" >1.0</text>
<text x="297.7" y="348.8" text-anchor="middle" font-size="12.85" >0</text>
<text x="347.2" y="348.8" text-anchor="middle" font-size="12.85" >40</text>
<text x="396.7" y="348.8" text-anchor="middle" font-size="12.85" >80</text>
<text x="446.2" y="348.8" text-anchor="middle" font-size="12.85" >120</text>
<text x="391.8" y="366.9" text-anchor="middle" font-size="12.85" >Amplitude (pA)</text>
<text transform="translate(257.6,337.0) rotate(-90)" font-size="12.85">Cumulative probability</text>
<path d="M48.1,400.3 V547.2 H207.9" stroke="#000" stroke-width="2.9" fill="none"/>
<path d="M42.7,547.2 H48.1 M42.7,510.8 H48.1 M42.7,474.4 H48.1 M42.7,438.0 H48.1 M42.7,401.6 H48.1 M92,547 V553.2 M164.5,547 V553.2" stroke="#000" stroke-width="2.7" fill="none"/>
<text x="39.0" y="553.0" text-anchor="end" font-size="12.85" >0</text>
<text x="39.0" y="516.9" text-anchor="end" font-size="12.85" >1</text>
<text x="39.0" y="480.2" text-anchor="end" font-size="12.85" >2</text>
<text x="39.0" y="443.8" text-anchor="end" font-size="12.85" >3</text>
<text x="39.0" y="408.8" text-anchor="end" font-size="12.85" >4</text>
<text transform="translate(18.3,547.5) rotate(-90)" font-size="12.85">mEPSC Frequency (Hz)</text>
<rect x="69.6" y="494.6" width="44.6" height="52.6" fill="#141414" stroke="#000" stroke-width="2.8"/>
<path d="M86.3,489.3 H97.9 M92,489.3 V494" stroke="#000" stroke-width="2.7" fill="none"/>
<rect x="142.5" y="449.3" width="44" height="97.9" fill="#d3d3d3" stroke="#000" stroke-width="3"/>
<path d="M158.9,438.3 H170.7 M164.5,438.3 V449" stroke="#000" stroke-width="2.9" fill="none"/>
<text x="92.6" y="567.6" text-anchor="middle" font-size="12.85" >Ctrl</text>
<text x="164.9" y="567.6" text-anchor="middle" font-size="12.85" >DCP</text>
<text x="156.0" y="434.6" text-anchor="middle" font-size="21.6" >*</text>
<text x="166.0" y="434.6" text-anchor="middle" font-size="21.6" >*</text>
<text x="176.0" y="434.6" text-anchor="middle" font-size="21.6" >*</text>
<path d="M296.8,408.2 V547.2 H454.4" stroke="#000" stroke-width="2.9" fill="none"/>
<path d="M291.8,547.4 H296.8 M291.8,507.9 H296.8 M291.8,468.4 H296.8 M291.8,428.9 H296.8 M340.3,547 V553 M412.6,547 V553" stroke="#000" stroke-width="2.7" fill="none"/>
<text x="289.6" y="552.3" text-anchor="end" font-size="12.85" >0</text>
<text x="289.6" y="511.4" text-anchor="end" font-size="12.85" >4</text>
<text x="289.6" y="473.3" text-anchor="end" font-size="12.85" >8</text>
<text x="289.6" y="433.8" text-anchor="end" font-size="12.85" >12</text>
<text transform="translate(261.7,553.4) rotate(-90)" font-size="12.85">mEPSC Amplitude (pA)</text>
<rect x="318.4" y="474.6" width="43.9" height="72.6" fill="#141414" stroke="#000" stroke-width="2.8"/>
<path d="M335,468.8 H347.1 M340.3,468.8 V474" stroke="#000" stroke-width="2.6" fill="none"/>
<rect x="390.6" y="434.5" width="42.9" height="112.7" fill="#d3d3d3" stroke="#000" stroke-width="3"/>
<path d="M407.6,423.7 H419 M412.8,423.7 V434" stroke="#000" stroke-width="2.8" fill="none"/>
<text x="340.9" y="567.7" text-anchor="middle" font-size="12.85" >Ctrl</text>
<text x="413.6" y="567.7" text-anchor="middle" font-size="12.85" >DCP</text>
<text x="402.8" y="420.75" text-anchor="middle" font-size="21.6" >*</text>
<text x="411.8" y="420.75" text-anchor="middle" font-size="21.6" >*</text>
<text x="420.7" y="420.75" text-anchor="middle" font-size="21.6" >*</text>
</svg>
</body></html>
